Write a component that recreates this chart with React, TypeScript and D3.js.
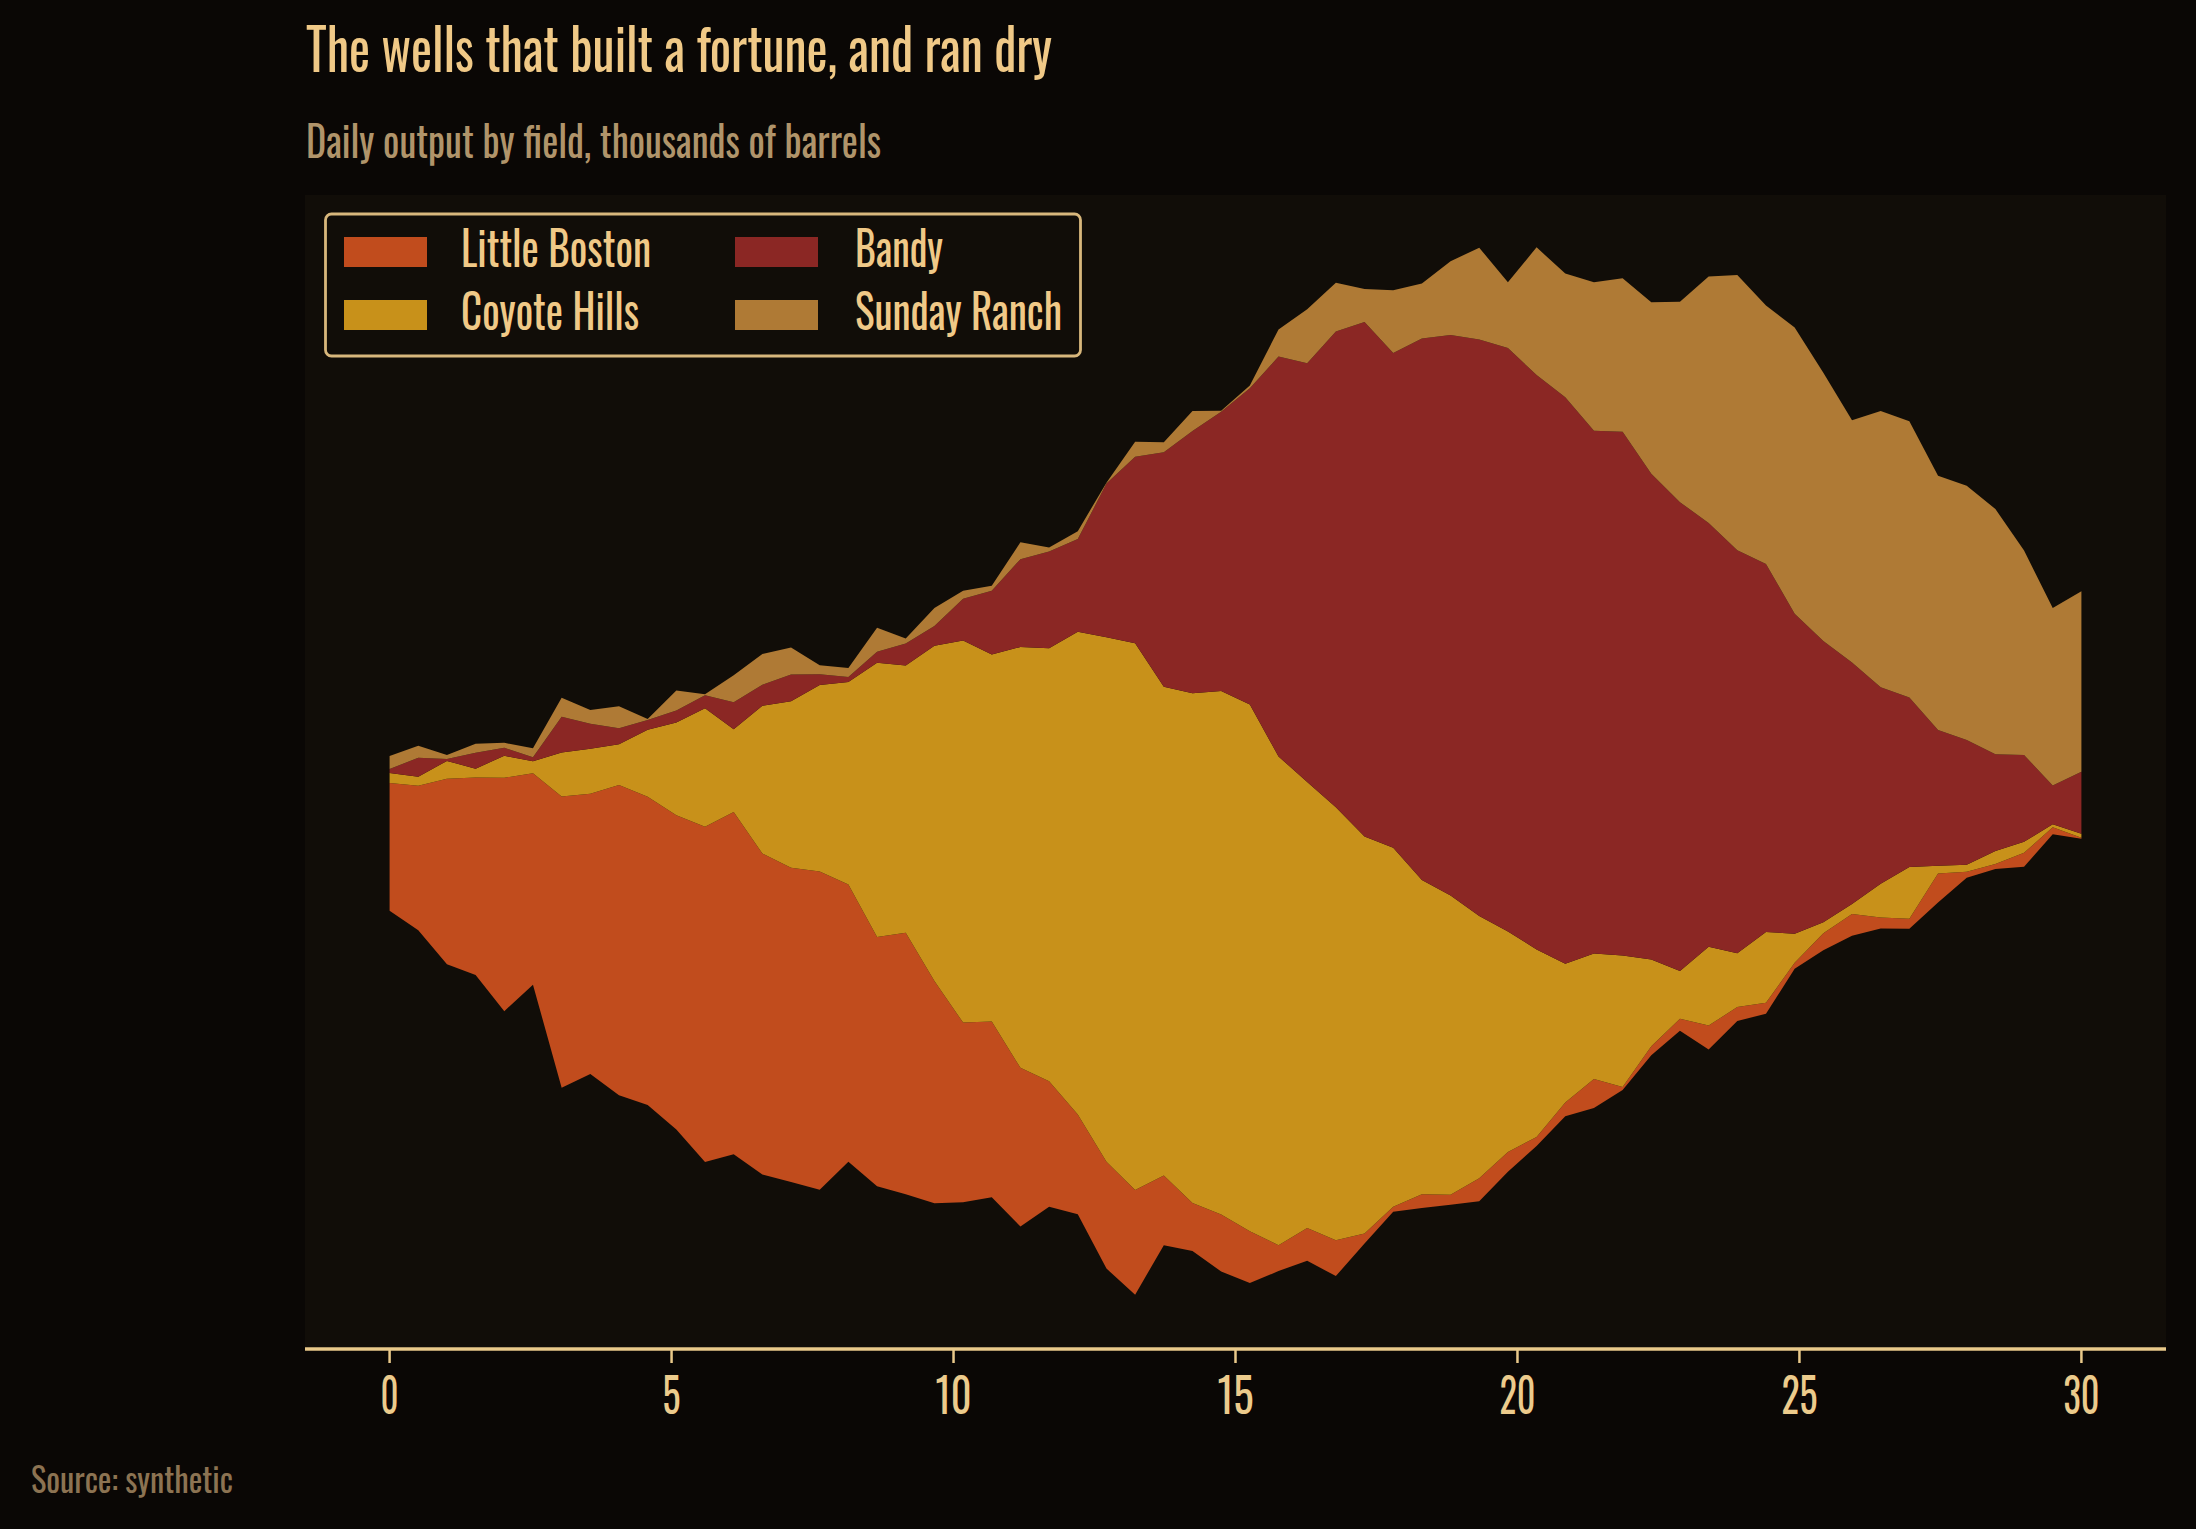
import { useEffect, useRef } from 'react';
import * as d3 from 'd3';

const W = 2196;
const H = 1529;

// 60 samples spread evenly over the 30-day window
const days = d3.range(60).map(i => (i * 30) / 59);

const fields = ['Little Boston', 'Coyote Hills', 'Bandy', 'Sunday Ranch'];
const colors = ['#c14c1d', '#c8911a', '#8b2724', '#af7a35'];

const littleBoston = [
  12.8, 14.5, 18.6, 19.8, 23.4, 21.2, 29.2, 28.1, 31.1, 30.9,
  31.5, 33.6, 34.3, 32.2, 31.5, 31.9, 27.8, 25.0, 26.2, 22.3,
  18.0, 17.6, 15.9, 12.6, 10.0, 10.7, 10.5, 7.0, 4.8, 5.7,
  5.2, 2.6, 3.3, 3.6, 1.0, 0.5, 1.4, 1.0, 2.3, 2.0,
  0.9, 1.4, 2.9, 0.3, 0.9, 1.2, 2.4, 1.4, 1.1, 0.6,
  1.7, 2.2, 1.1, 1.0, 2.9, 0.6, 0.5, 1.4, 0.7, 0.1,
];
const coyoteHills = [
  1.0, 0.9, 1.8, 0.9, 2.2, 1.2, 4.4, 4.5, 4.1, 6.7,
  9.3, 11.9, 8.3, 14.8, 16.7, 18.7, 20.3, 27.5, 26.8, 33.6,
  38.3, 36.8, 42.2, 43.4, 48.4, 52.6, 54.8, 49.0, 51.1, 52.5,
  52.8, 49.0, 44.7, 43.4, 39.8, 36.0, 31.5, 30.0, 26.3, 22.1,
  18.8, 13.9, 12.6, 13.2, 8.7, 4.8, 7.9, 5.4, 7.1, 2.9,
  1.1, 1.0, 3.4, 5.2, 0.8, 0.7, 1.3, 1.1, 0.3, 0.4,
];
const bandy = [
  0.4, 1.9, 0.2, 1.6, 0.8, 0.4, 3.6, 2.5, 1.6, 1.0,
  1.2, 1.3, 2.7, 2.1, 2.7, 1.1, 0.5, 1.1, 2.2, 2.0,
  4.2, 6.4, 8.8, 9.7, 9.3, 15.4, 18.7, 23.5, 26.3, 28.0,
  31.7, 40.1, 42.0, 47.7, 51.6, 49.6, 54.3, 56.2, 57.8, 58.5,
  57.6, 56.8, 52.4, 52.5, 48.7, 47.0, 42.5, 40.4, 36.9, 32.1,
  28.2, 24.2, 19.7, 17.0, 13.6, 12.5, 9.7, 8.7, 3.9, 6.2,
];
const sundayRanch = [
  1.3, 1.2, 0.4, 0.9, 0.5, 0.9, 1.9, 1.4, 2.2, 0.1,
  2.0, 0.1, 2.7, 3.1, 2.7, 0.9, 0.9, 2.4, 0.5, 1.8,
  0.8, 0.5, 1.7, 0.4, 0.8, 0.1, 1.5, 1.0, 2.0, 0.1,
  0.3, 2.7, 5.4, 4.9, 3.3, 6.3, 5.5, 7.4, 9.2, 6.6,
  12.8, 12.4, 14.9, 15.4, 17.2, 20.1, 24.7, 27.6, 25.9, 28.7,
  26.9, 24.3, 27.7, 27.7, 25.5, 25.5, 24.6, 20.5, 17.8, 18.1,
];

const xTicks = [0, 5, 10, 15, 20, 25, 30];

const FONT = "'Oswald', 'Liberation Sans Narrow', 'Arial Narrow', 'DejaVu Sans Condensed', 'Liberation Sans', sans-serif";

// "wiggle" baseline: shift every column so the summed squared slopes stay small
function offsetWiggle(series: any, order: number[]) {
  d3.stackOffsetNone(series, order);
  const m = order.length;
  const n = series[order[0]].length;
  for (let j = 0; j < n; ++j) {
    let shift = 0;
    order.forEach((s, k) => {
      const d = series[s][j];
      shift += (m - 0.5 - k) * (d[1] - d[0]);
    });
    shift /= -m;
    for (const s of order) {
      series[s][j][0] += shift;
      series[s][j][1] += shift;
    }
  }
}

export default function App() {
  const svgRef = useRef<SVGSVGElement>(null);

  useEffect(() => {
    if (!svgRef.current) return;
    const svg = d3.select(svgRef.current);
    svg.selectAll('*').remove();

    const plot = { left: 305, right: 2166, top: 195, bottom: 1347 };

    svg.append('rect').attr('width', W).attr('height', H).attr('fill', '#0a0705');
    svg.append('rect')
      .attr('x', plot.left).attr('y', plot.top)
      .attr('width', plot.right - plot.left).attr('height', plot.bottom - plot.top)
      .attr('fill', '#110d08');

    const rows = days.map((t, i) => ({
      t,
      'Little Boston': littleBoston[i],
      'Coyote Hills': coyoteHills[i],
      'Bandy': bandy[i],
      'Sunday Ranch': sundayRanch[i],
    }));

    const layers = d3.stack<any>().keys(fields).offset(offsetWiggle as any)(rows);

    // Scales, padded 5% on each side like the usual auto limits
    const [t0, t1] = d3.extent(days) as [number, number];
    const padX = (t1 - t0) * 0.05;
    const lo = d3.min(layers, s => d3.min(s, d => d[0])) as number;
    const hi = d3.max(layers, s => d3.max(s, d => d[1])) as number;
    const padY = (hi - lo) * 0.05;
    const x = d3.scaleLinear().domain([t0 - padX, t1 + padX]).range([plot.left, plot.right]);
    const y = d3.scaleLinear().domain([lo - padY, hi + padY]).range([plot.bottom, plot.top]);

    const area = d3.area<any>()
      .x(d => x(d.data.t))
      .y0(d => y(d[0]))
      .y1(d => y(d[1]));

    svg.append('g')
      .selectAll('path')
      .data(layers)
      .join('path')
      .attr('d', area)
      .attr('fill', (_, i) => colors[i]);

    // Bottom spine and ticks
    const axis = svg.append('g');
    axis.append('line')
      .attr('x1', plot.left).attr('x2', plot.right)
      .attr('y1', plot.bottom + 2).attr('y2', plot.bottom + 2)
      .attr('stroke', '#e9c98a').attr('stroke-width', 3.5);
    xTicks.forEach(v => {
      axis.append('line')
        .attr('x1', x(v)).attr('x2', x(v))
        .attr('y1', plot.bottom + 3).attr('y2', plot.bottom + 16)
        .attr('stroke', '#e9c98a').attr('stroke-width', 2.5);
      axis.append('text')
        .attr('x', x(v)).attr('y', 1414)
        .attr('text-anchor', 'middle')
        .attr('font-family', FONT).attr('font-size', 48)
        .attr('textLength', String(v).length * 18)
        .attr('lengthAdjust', 'spacingAndGlyphs')
        .attr('fill', '#eccb8c')
        .text(v);
    });

    // Titles and source note
    svg.append('text')
      .attr('x', 306).attr('y', 72)
      .attr('font-family', FONT).attr('font-size', 57)
      .attr('textLength', 746).attr('lengthAdjust', 'spacingAndGlyphs')
      .attr('fill', '#f0c987')
      .text('The wells that built a fortune, and ran dry');
    svg.append('text')
      .attr('x', 306).attr('y', 158)
      .attr('font-family', FONT).attr('font-size', 42)
      .attr('textLength', 575).attr('lengthAdjust', 'spacingAndGlyphs')
      .attr('fill', '#b0946a')
      .text('Daily output by field, thousands of barrels');
    svg.append('text')
      .attr('x', 31).attr('y', 1493)
      .attr('font-family', FONT).attr('font-size', 34)
      .attr('textLength', 202).attr('lengthAdjust', 'spacingAndGlyphs')
      .attr('fill', '#8c7352')
      .text('Source: synthetic');

    // Legend, two columns
    const legend = svg.append('g');
    legend.append('rect')
      .attr('x', 325.5).attr('y', 214)
      .attr('width', 755).attr('height', 142)
      .attr('rx', 6)
      .attr('fill', '#110d08')
      .attr('stroke', '#d8b77c').attr('stroke-width', 2.8);
    const legendItems = [
      { i: 0, col: 0, row: 0, len: 190 },
      { i: 1, col: 0, row: 1, len: 178 },
      { i: 2, col: 1, row: 0, len: 88 },
      { i: 3, col: 1, row: 1, len: 207 },
    ];
    legendItems.forEach(it => {
      const sx = it.col === 0 ? 344 : 735;
      const tx = it.col === 0 ? 461 : 855;
      const top = it.row === 0 ? 237 : 300;
      legend.append('rect')
        .attr('x', sx).attr('y', top)
        .attr('width', 83).attr('height', 30)
        .attr('fill', colors[it.i]);
      legend.append('text')
        .attr('x', tx).attr('y', top + 30)
        .attr('font-family', FONT).attr('font-size', 47)
        .attr('textLength', it.len).attr('lengthAdjust', 'spacingAndGlyphs')
        .attr('fill', '#f0c987')
        .text(fields[it.i]);
    });
  }, []);

  return (
    <svg
      ref={svgRef}
      width={W}
      height={H}
      style={{ position: 'absolute', left: 0, top: 0, display: 'block' }}
    />
  );
}
